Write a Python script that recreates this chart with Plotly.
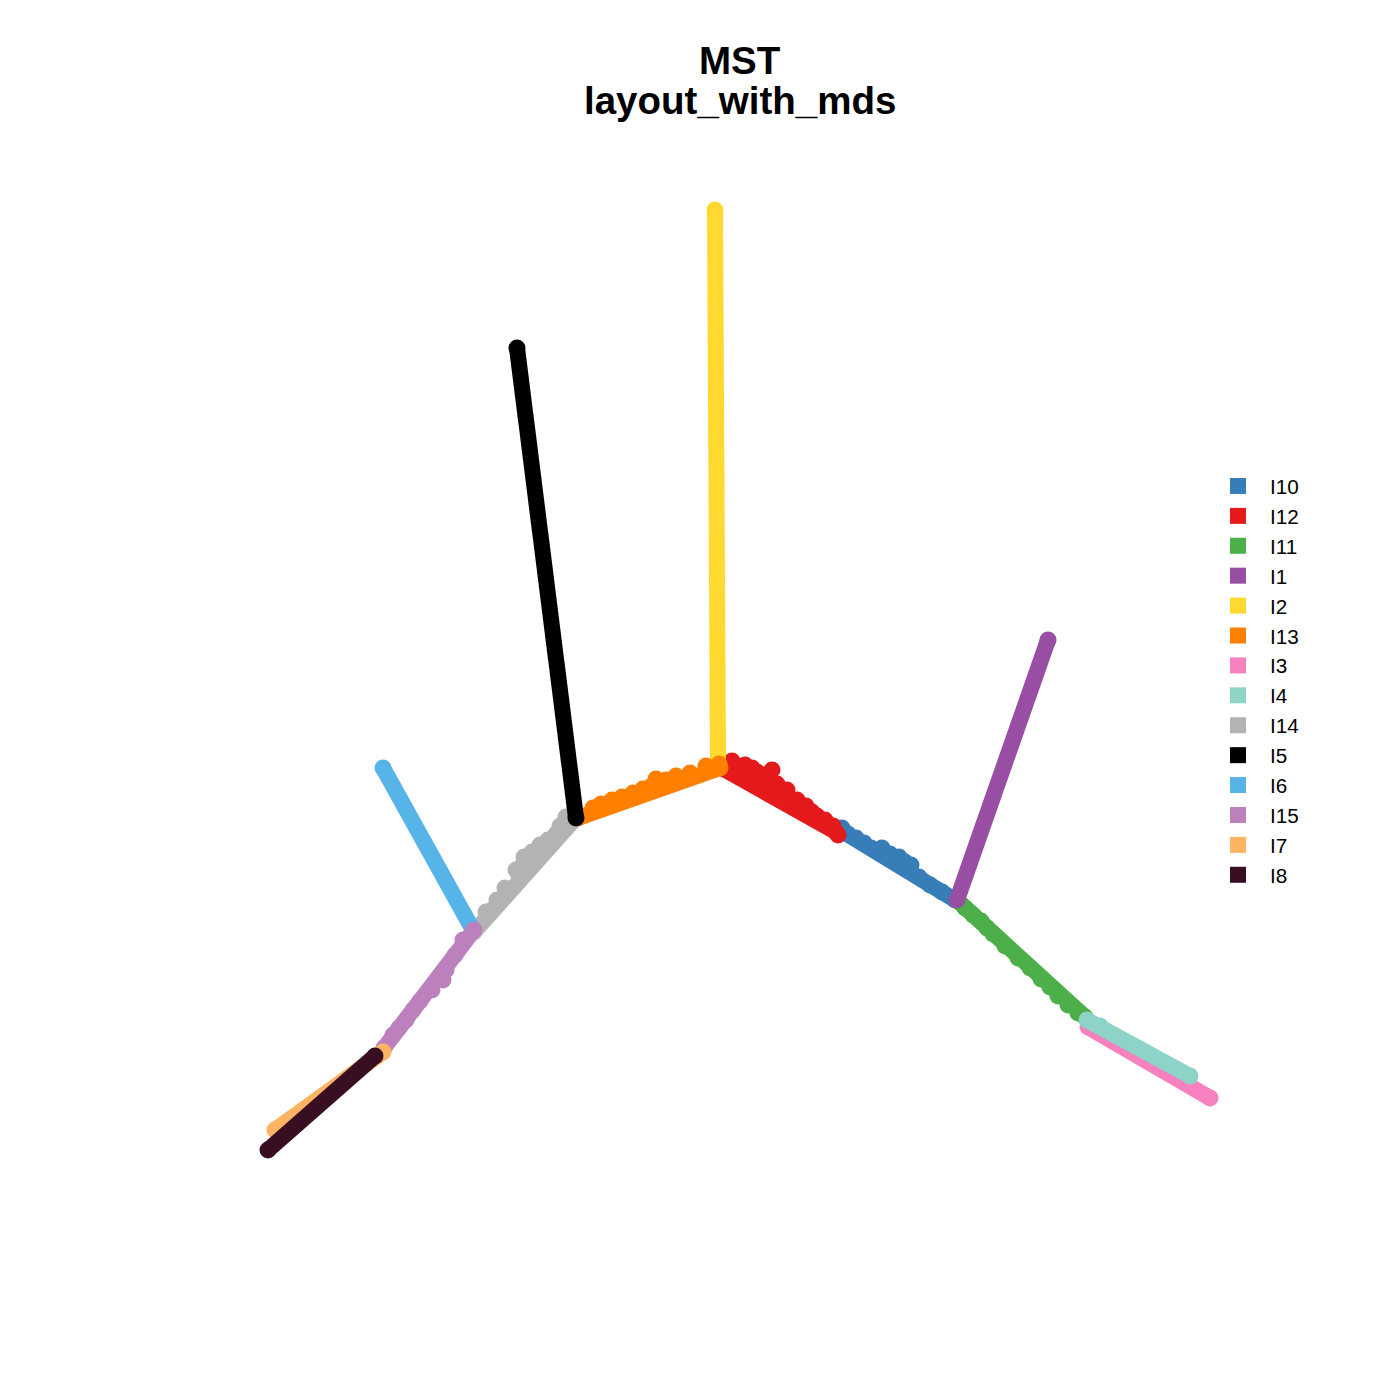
import plotly.graph_objects as go

# Cluster order (legend and drawing order)
clusters = ["I10", "I12", "I11", "I1", "I2", "I13", "I3", "I4", "I14", "I5", "I6", "I15", "I7", "I8"]
colors = ["#377EB8", "#E41A1C", "#4DAF4A", "#984EA3", "#FFD92F", "#FF7F00", "#F781BF",
          "#8DD3C7", "#B3B3B3", "#000000", "#56B4E9", "#BC80BD", "#FDB462", "#380F22"]

# Branch start / end positions in layout space (y grows downward)
start_x = [837, 722, 958, 957, 718, 578, 1088, 1087, 574, 576, 473, 474, 383, 375]
start_y = [828, 768, 901, 900, 765, 818, 1027, 1020, 820, 818, 930, 930, 1052, 1056]
end_x = [955, 836, 1085, 1048, 715, 720, 1210, 1190, 474, 517, 383, 384, 275, 268]
end_y = [900, 832, 1017, 640, 210, 768, 1098, 1076, 932, 348, 768, 1048, 1130, 1150]

# Off-axis cell points per branch
bump_x = [
    [842, 848, 856, 864, 871, 882, 890, 899, 905, 911, 919, 930, 942],
    [732, 742, 745, 752, 757, 762, 767, 772, 772, 760, 777, 787, 790, 797, 806, 812, 817, 825, 833, 838],
    [965, 973, 981, 987, 993, 1005, 1018, 1030, 1041, 1050, 1058, 1068, 1078],
    [],
    [],
    [593, 601, 612, 622, 633, 643, 650, 656, 666, 676, 690, 706, 719],
    [],
    [1100],
    [566, 560, 556, 548, 540, 532, 524, 521, 516, 519, 505, 497, 493, 486],
    [],
    [],
    [463, 455, 446, 443, 432, 420, 413, 406, 399, 393],
    [],
    [],
]
bump_y = [
    [828, 834, 838, 843, 848, 848, 854, 857, 862, 865, 877, 885, 892],
    [761, 768, 765, 768, 772, 775, 776, 770, 782, 783, 784, 790, 800, 800, 806, 812, 816, 820, 826, 835],
    [908, 915, 921, 928, 934, 946, 958, 968, 979, 987, 996, 1005, 1013],
    [],
    [],
    [808, 804, 800, 797, 793, 789, 787, 779, 780, 776, 773, 766, 764],
    [],
    [1026],
    [817, 826, 834, 840, 845, 852, 857, 867, 870, 877, 888, 900, 909, 912],
    [],
    [],
    [940, 955, 970, 980, 990, 1001, 1010, 1020, 1028, 1035],
    [],
    [],
]

# The page adds an 8 px body margin; pixel p on screen = 8 + paper*1400
OFF = 8


def px(p):
    return (p - OFF) / 1400


def py(p):
    return 1 - (p - OFF) / 1400


fig = go.Figure()
for i, name in enumerate(clusters):
    c = colors[i]
    fig.add_trace(go.Scatter(
        x=[start_x[i], end_x[i]], y=[start_y[i], end_y[i]], mode="lines",
        line=dict(color=c, width=16), legendgroup=name, showlegend=False,
        hoverinfo="skip"))
    fig.add_trace(go.Scatter(
        x=[start_x[i]] + bump_x[i] + [end_x[i]],
        y=[start_y[i]] + bump_y[i] + [end_y[i]],
        mode="markers", marker=dict(color=c, size=17, line=dict(width=0)),
        legendgroup=name, showlegend=False, name=name))
    fig.add_trace(go.Scatter(
        x=[None], y=[None], mode="markers", name=name, legendgroup=name,
        marker=dict(color=c, symbol="square", size=18, line=dict(width=0))))

title_font = dict(size=38.5, family="Liberation Sans, Arial, sans-serif", color="black")
fig.update_layout(
    width=1400, height=1400,
    margin=dict(l=0, r=0, t=0, b=0),
    paper_bgcolor="white", plot_bgcolor="white",
    font=dict(family="Liberation Sans, Arial, sans-serif", color="black"),
    xaxis=dict(range=[OFF, 1400 + OFF], visible=False, fixedrange=True),
    yaxis=dict(range=[1400 + OFF, OFF], visible=False, fixedrange=True),
    showlegend=True,
    legend=dict(x=px(1206), xanchor="left", y=py(466), yanchor="top",
                font=dict(size=20.7), tracegroupgap=0, itemsizing="trace", itemwidth=54,
                bgcolor="rgba(0,0,0,0)"),
    annotations=[
        dict(text="<b>MST</b>", x=px(740), y=py(60), xref="paper", yref="paper",
             xanchor="center", yanchor="middle", showarrow=False, font=title_font),
        dict(text="<b>layout_with_mds</b>", x=px(740), y=py(101), xref="paper", yref="paper",
             xanchor="center", yanchor="middle", showarrow=False, font=title_font),
    ],
)

fig.write_html("out.html")
